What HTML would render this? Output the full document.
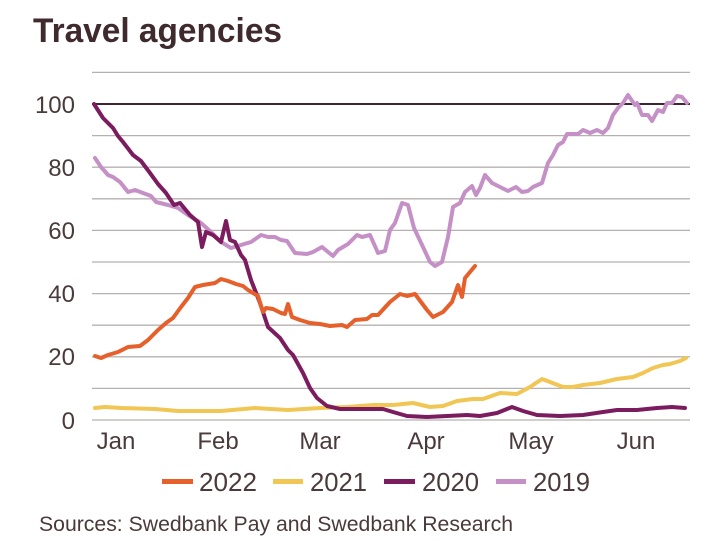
<!DOCTYPE html>
<html><head><meta charset="utf-8">
<style>
html,body{margin:0;padding:0;background:#fff;}
svg{display:block;}
text{font-family:"Liberation Sans",sans-serif;fill:#4a3a3b;}
</style></head>
<body>
<svg width="710" height="541" viewBox="0 0 710 541" xmlns="http://www.w3.org/2000/svg">
<rect width="710" height="541" fill="#fff"/>
<text x="33" y="42" font-size="34" font-weight="bold" style="fill:#3f2a2d" textLength="249" lengthAdjust="spacingAndGlyphs">Travel agencies</text>
<g stroke="#b7b0b0" stroke-width="1.3">
<line x1="92" y1="72.4" x2="690" y2="72.4"/>
<line x1="92" y1="135.6" x2="690" y2="135.6"/>
<line x1="92" y1="167.2" x2="690" y2="167.2"/>
<line x1="92" y1="198.8" x2="690" y2="198.8"/>
<line x1="92" y1="230.4" x2="690" y2="230.4"/>
<line x1="92" y1="262" x2="690" y2="262"/>
<line x1="92" y1="293.6" x2="690" y2="293.6"/>
<line x1="92" y1="325.2" x2="690" y2="325.2"/>
<line x1="92" y1="356.8" x2="690" y2="356.8"/>
<line x1="92" y1="388.4" x2="690" y2="388.4"/>
<line x1="92" y1="420" x2="690" y2="420"/>
</g>
<line x1="92" y1="104" x2="690" y2="104" stroke="#3d2630" stroke-width="2"/>
<g font-size="24" text-anchor="end">
<text x="75" y="113">100</text>
<text x="75" y="176">80</text>
<text x="75" y="239">60</text>
<text x="75" y="302">40</text>
<text x="75" y="365">20</text>
<text x="75" y="429">0</text>
</g>
<g font-size="24" text-anchor="middle">
<text x="116" y="449">Jan</text>
<text x="218" y="449">Feb</text>
<text x="320" y="449">Mar</text>
<text x="426" y="449">Apr</text>
<text x="531" y="449">May</text>
<text x="636" y="449">Jun</text>
</g>
<g fill="none" stroke-width="4" stroke-linejoin="round" stroke-linecap="round">
<polyline stroke="#f1c654" points="95,408 105,407 121,408 155,409 178,411 221,411 255,408 271,409 288,410 320,408 347,407 373,405 393,405 413,403 430,407 443,406 457,401 473,399 483,399 500,393 517,394 530,387 542,379 550,382 563,387 573,387 583,385 600,383 617,379 633,377 643,373 653,368 663,365 670,364 680,361 686,358"/>
<polyline stroke="#c590c6" points="95,158 101,167 108,175 113,177 120,182 128,192 135,190 143,193 151,196 156,202 168,205 178,208 188,215 201,223 211,232 221,242 231,248 241,245 251,242 261,235 268,237 275,237 281,240 287,241 295,253 307,254 313,252 322,247 333,256 338,250 348,244 357,235 362,237 370,235 378,253 385,251 390,230 395,223 402,203 408,205 414,228 423,247 430,262 435,266 442,262 448,237 453,207 460,203 465,192 472,186 476,195 480,188 485,175 492,183 498,186 508,191 516,187 522,192 528,191 533,187 542,183 548,163 553,155 558,145 563,142 567,134 578,134 583,130 590,133 597,130 603,133 608,128 613,115 618,108 623,103 628,95 635,105 637,103 642,115 648,115 652,121 658,110 663,112 667,103 672,103 677,96 682,97 687,103"/>
<polyline stroke="#7b1c5f" points="94,104 103,118 113,128 118,136 123,142 133,155 141,161 150,173 158,184 166,193 174,205 180,203 190,215 198,222 202,247 206,232 213,235 221,242 226,221 230,240 235,242 241,255 245,260 251,280 260,303 268,327 280,338 288,350 293,355 303,373 310,388 317,398 327,406 340,409 357,409 373,409 383,409 393,412 407,416 427,417 447,416 467,415 480,416 497,413 512,407 523,411 537,415 560,416 583,415 603,412 617,410 637,410 657,408 672,407 685,408"/>
<polyline stroke="#e5602a" points="95,356 101,358 108,355 118,352 128,347 140,346 148,340 158,330 166,323 173,318 181,307 188,298 195,287 203,285 215,283 221,279 228,281 236,284 243,286 248,290 258,296 263,312 266,308 273,309 281,313 285,314 288,304 292,317 300,320 310,323 320,324 330,326 342,325 347,327 355,320 367,319 372,315 378,315 390,302 400,294 407,296 415,294 427,310 433,317 443,312 452,302 458,285 462,297 465,278 470,272 475,266"/>
</g>
<g stroke-width="5">
<line x1="162" y1="481.5" x2="193" y2="481.5" stroke="#e5602a"/>
<line x1="273" y1="481.5" x2="303" y2="481.5" stroke="#f1c654"/>
<line x1="384" y1="481.5" x2="415" y2="481.5" stroke="#7b1c5f"/>
<line x1="496" y1="481.5" x2="526" y2="481.5" stroke="#c590c6"/>
</g>
<g font-size="26">
<text x="199" y="491" textLength="58" lengthAdjust="spacingAndGlyphs">2022</text>
<text x="310" y="491" textLength="57" lengthAdjust="spacingAndGlyphs">2021</text>
<text x="422" y="491" textLength="57" lengthAdjust="spacingAndGlyphs">2020</text>
<text x="533" y="491" textLength="57" lengthAdjust="spacingAndGlyphs">2019</text>
</g>
<text x="39" y="531" font-size="21" textLength="474" lengthAdjust="spacingAndGlyphs">Sources: Swedbank Pay and Swedbank Research</text>
</svg>
</body></html>
